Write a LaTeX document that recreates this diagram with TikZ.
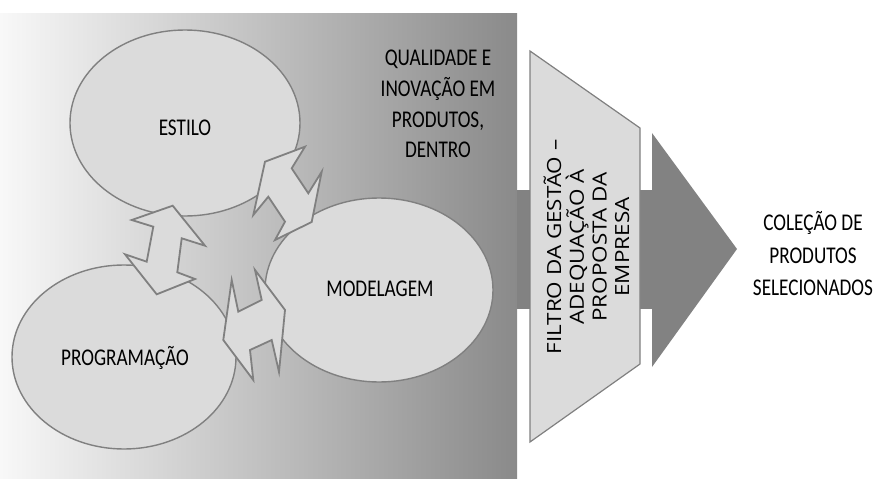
\documentclass[tikz,border=0pt]{standalone}
\usepackage{fontspec}
\setmainfont{Carlito}[FakeStretch=0.8]
\newfontfamily\filtfont[FakeStretch=1.15]{Open Sans}
\usetikzlibrary{shapes.geometric}
\definecolor{bgL}{RGB}{248,248,248}
\definecolor{bgM}{RGB}{206,206,206}
\definecolor{bgR}{RGB}{138,138,138}
\definecolor{shapefill}{RGB}{219,219,219}
\definecolor{edgegray}{RGB}{128,128,128}
\definecolor{darkband}{RGB}{130,130,130}
\begin{document}
\begin{tikzpicture}[x=1pt,y=-1pt,
  ell/.style={ellipse, draw=edgegray, fill=shapefill, line width=1.4pt, inner sep=0pt},
  dblarrow/.style={draw=edgegray, fill=shapefill, line width=1.8pt, line join=miter},
  lbl/.style={font=\fontsize{24}{28}\selectfont, text=black},
  blocktxt/.style={align=center, text=black},
  filtshape/.style={draw=edgegray, fill=shapefill, line width=1.2pt},
  bandfill/.style={fill=darkband}
]
\useasboundingbox (0,0) rectangle (879,479);
% background
\shade[left color=bgL, middle color=bgM, right color=bgR] (0,13) rectangle (517,479);
% band and big arrow
\fill[bandfill] (517,190) rectangle (660,309);
\fill[bandfill] (652,133) -- (737,249) -- (652,367) -- cycle;
% filter
\draw[filtshape] (530,51) -- (640,128) -- (640,364) -- (530,442) -- cycle;
\node[blocktxt, rotate=90, font=\filtfont\fontsize{19.5}{22.7}\selectfont] (filtro) at (586.5,247)
  {FILTRO DA GESTÃO –\\ADEQUAÇÃO À\\PROPOSTA DA\\EMPRESA};
% ellipses
\node[ell, minimum width=230pt, minimum height=186pt] (estilo) at (185,123) {};
\node[ell, minimum width=224pt, minimum height=184pt] (programacao) at (124,357) {};
\node[ell, minimum width=228pt, minimum height=184pt] (modelagem) at (379,290) {};
\node[lbl] (estilotxt) at (185,128) {ESTILO};
\node[lbl] (programacaotxt) at (125,358) {PROGRAMAÇÃO};
\node[lbl] (modelagemtxt) at (380,289) {MODELAGEM};
% double arrows
\draw[dblarrow] (172.7,205.7) -- (131.7,220) -- (153.3,226.7) -- (146.7,261.7) -- (125,254.3)
  -- (156.7,294.3) -- (195,279) -- (177.3,272.3) -- (181.7,238.3) -- (205,245.7) -- cycle;
\draw[dblarrow] (265,161.7) -- (305,146.7) -- (291.7,168.3) -- (308.3,193.3) -- (321.7,171.7)
  -- (311.7,222) -- (275,240) -- (285,221.7) -- (268.3,196.7) -- (253.3,215) -- cycle;
\draw[dblarrow] (285,310) -- (279,372) -- (271.7,340) -- (250,350) -- (253.3,380)
  -- (223.3,340) -- (231.7,280) -- (238.3,311.7) -- (261.7,300) -- (255,270) -- cycle;
% texts
\node[blocktxt, font=\fontsize{24}{30.6}\selectfont] (qualidade) at (438,104)
  {QUALIDADE E\\INOVAÇÃO EM\\PRODUTOS,\\DENTRO};
\node[blocktxt, font=\fontsize{24}{32.5}\selectfont] (colecao) at (813,254)
  {COLEÇÃO DE\\PRODUTOS\\SELECIONADOS};
\end{tikzpicture}
\end{document}
